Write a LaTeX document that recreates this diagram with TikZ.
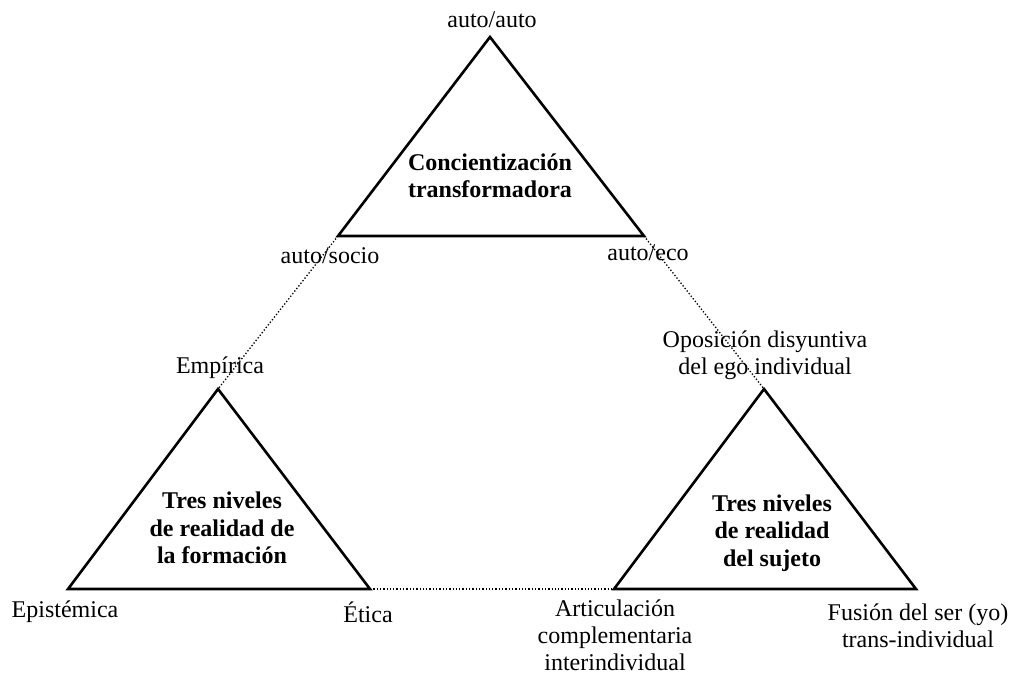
\documentclass[tikz,border=0pt]{standalone}
\usepackage{fontspec}
\setmainfont{Liberation Serif}
\begin{document}
\begin{tikzpicture}[x=1pt,y=-1pt,
  tri/.style={draw=black,line width=2.6pt,line join=miter},
  link/.style={draw=black,line width=1.3pt,dotted},
  lbl/.style={align=center,inner sep=0pt,font=\fontsize{24}{27}\selectfont},
  core/.style={align=center,inner sep=0pt,font=\fontsize{24}{27.5}\selectfont\bfseries}]
\useasboundingbox (0,0) rectangle (1014,675);
% vertices of the three triangles
\coordinate (Ta) at (490,37);  \coordinate (Tl) at (338,236); \coordinate (Tr) at (644,236);
\coordinate (La) at (218,389); \coordinate (Ll) at (68,589);  \coordinate (Lr) at (370,589);
\coordinate (Ra) at (764,389); \coordinate (Rl) at (614,589); \coordinate (Rr) at (916,589);
% dotted links between the triangles
\draw[link] (Tl) -- (La);
\draw[link] (Tr) -- (Ra);
\draw[link] (Lr) -- (Rl);
% triangles
\draw[tri] (Ta) -- (Tl) -- (Tr) -- cycle;
\draw[tri] (La) -- (Ll) -- (Lr) -- cycle;
\draw[tri] (Ra) -- (Rl) -- (Rr) -- cycle;
% titles inside
\node[core] (tc) at (490,176) {Concientización\\transformadora};
\node[core] (lc) at (222,528) {Tres niveles\\de realidad de\\la formación};
\node[core] (rc) at (772,533) {Tres niveles\\de realidad\\del sujeto};
% vertex labels
\node[lbl] (t1) at (492,20) {auto/auto};
\node[lbl] (t2) at (330,256) {auto/socio};
\node[lbl] (t3) at (648,253) {auto/eco};
\node[lbl] (l1) at (220,368) {Empírica};
\node[lbl] (l2) at (65,612) {Epistémica};
\node[lbl] (l3) at (368,612) {Ética};
\node[lbl] (r1) at (765,355) {Oposición disyuntiva\\del ego individual};
\node[lbl] (r2) at (615,635) {Articulación\\complementaria\\interindividual};
\node[lbl] (r3) at (918,626) {Fusión del ser (yo)\\trans-individual};
\end{tikzpicture}
\end{document}
